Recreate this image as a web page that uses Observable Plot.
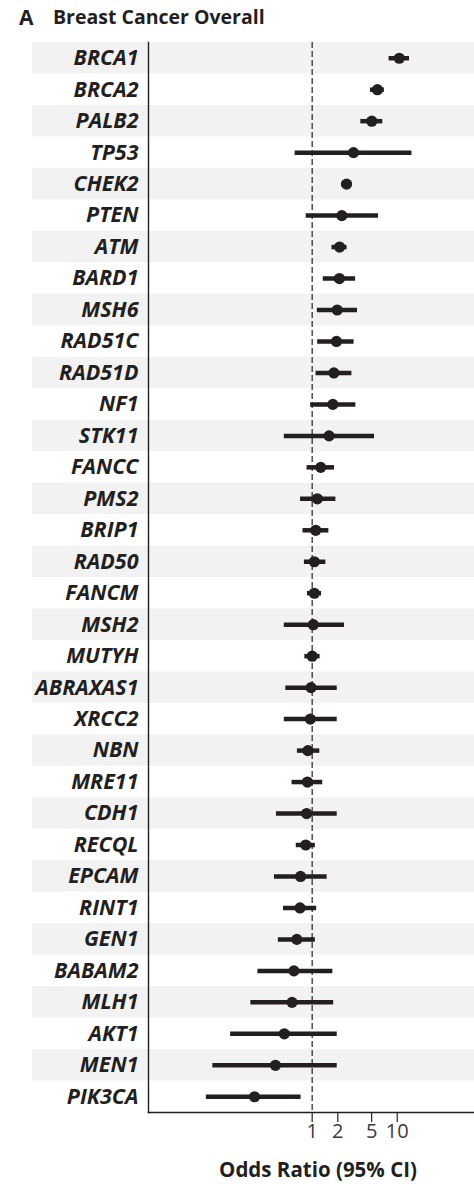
<!DOCTYPE html>
<html>
<head>
<meta charset="utf-8">
<script src="https://cdn.jsdelivr.net/npm/d3@7"></script>
<script src="https://cdn.jsdelivr.net/npm/@observablehq/plot@0.6"></script>
<style>
  body { margin: 0; background: #fff; }
  #title { position: relative; height: 40px; font-family: "Open Sans", sans-serif; font-weight: 700; color: #231f20; }
  #title .panel { position: absolute; left: 19px; top: 3px; font-size: 21px; }
  #title .name { position: absolute; left: 53px; top: 3px; font-size: 19.5px; }
  #chart svg { display: block; }
  g[aria-label="y-axis tick label"] text { font-style: italic; font-weight: 700; }
</style>
</head>
<body>
<div id="title"><span class="panel">A</span><span class="name">Breast Cancer Overall</span></div>
<div id="chart"></div>
<script>
// Genes, ordered top to bottom
const genes = [
  "BRCA1", "BRCA2", "PALB2", "TP53", "CHEK2", "PTEN", "ATM", "BARD1", "MSH6",
  "RAD51C", "RAD51D", "NF1", "STK11", "FANCC", "PMS2", "BRIP1", "RAD50", "FANCM",
  "MSH2", "MUTYH", "ABRAXAS1", "XRCC2", "NBN", "MRE11", "CDH1", "RECQL", "EPCAM",
  "RINT1", "GEN1", "BABAM2", "MLH1", "AKT1", "MEN1", "PIK3CA"
];
// Odds ratio and 95% confidence interval bounds per gene
const oddsRatio = [
  10.57, 5.85, 5.02, 3.06, 2.54, 2.23, 2.10, 2.09, 1.97,
  1.93, 1.80, 1.75, 1.58, 1.26, 1.15, 1.10, 1.06, 1.06,
  1.03, 1.00, 0.97, 0.95, 0.89, 0.88, 0.86, 0.84, 0.73,
  0.72, 0.66, 0.61, 0.58, 0.47, 0.37, 0.21
];
const ciLow = [
  8.02, 4.85, 3.73, 0.63, 2.21, 0.85, 1.71, 1.35, 1.15,
  1.16, 1.11, 0.96, 0.47, 0.87, 0.73, 0.78, 0.81, 0.88,
  0.47, 0.82, 0.49, 0.47, 0.67, 0.58, 0.38, 0.65, 0.36,
  0.46, 0.40, 0.23, 0.19, 0.11, 0.068, 0.057
];
const ciHigh = [
  13.93, 7.06, 6.76, 14.91, 2.91, 6.03, 2.57, 3.24, 3.41,
  3.11, 2.93, 3.26, 5.41, 1.83, 1.90, 1.57, 1.45, 1.29,
  2.40, 1.24, 1.97, 1.97, 1.23, 1.33, 1.97, 1.09, 1.50,
  1.13, 1.09, 1.75, 1.79, 1.97, 1.97, 0.74
];
const tickValues = [1, 2, 5, 10];
const xLabel = "Odds Ratio (95% CI)";

const rows = genes.map((gene, i) => ({gene, or: oddsRatio[i], lo: ciLow[i], hi: ciHigh[i]}));
const shaded = genes.filter((g, i) => i % 2 === 0);

const xDomain = [0.0119, 81];
const ink = "#231f20";

const chart = Plot.plot({
  width: 474,
  height: 1144,
  marginTop: 2,
  marginBottom: 72,
  marginLeft: 148,
  marginRight: 0,
  style: {fontFamily: "'Open Sans', sans-serif", color: ink, background: "#fff"},
  x: {type: "log", domain: xDomain},
  y: {domain: genes, padding: 0, round: false},
  marks: [
    // alternating row shading, reaching under the gene labels
    Plot.barX(shaded, {x1: xDomain[0], x2: xDomain[1], y: d => d, fill: "#f2f2f2", insetLeft: -116}),
    // reference line at OR = 1
    Plot.ruleX([1], {stroke: "#333", strokeWidth: 1.3, strokeDasharray: "6,3"}),
    // confidence intervals
    Plot.ruleY(rows, {y: "gene", x1: "lo", x2: "hi", stroke: ink, strokeWidth: 4.5}),
    // point estimates
    Plot.dot(rows, {y: "gene", x: "or", r: 5.6, fill: ink, stroke: "none"}),
    // axis frame lines
    Plot.frame({anchor: "left", stroke: ink, strokeWidth: 1.4}),
    Plot.frame({anchor: "bottom", stroke: ink, strokeWidth: 1.4}),
    Plot.axisY({tickSize: 0, tickPadding: 10, fontSize: 21.5, fontWeight: "bold", fontStyle: "italic", fill: ink, label: null}),
    Plot.axisX({ticks: tickValues, tickFormat: () => "", tickSize: 10, stroke: ink, strokeWidth: 1.2, label: null}),
    // tick labels
    Plot.text(tickValues, {x: d => d, text: d => String(d), frameAnchor: "bottom", dy: 25, fontSize: 20, fill: "#3a3a3a"}),
    // axis title
    Plot.text([xLabel], {text: d => d, frameAnchor: "bottom", dy: 64, dx: 6.5, fontSize: 20.5, fontWeight: "bold", fill: ink})
  ]
});
document.getElementById("chart").appendChild(chart);
</script>
</body>
</html>
